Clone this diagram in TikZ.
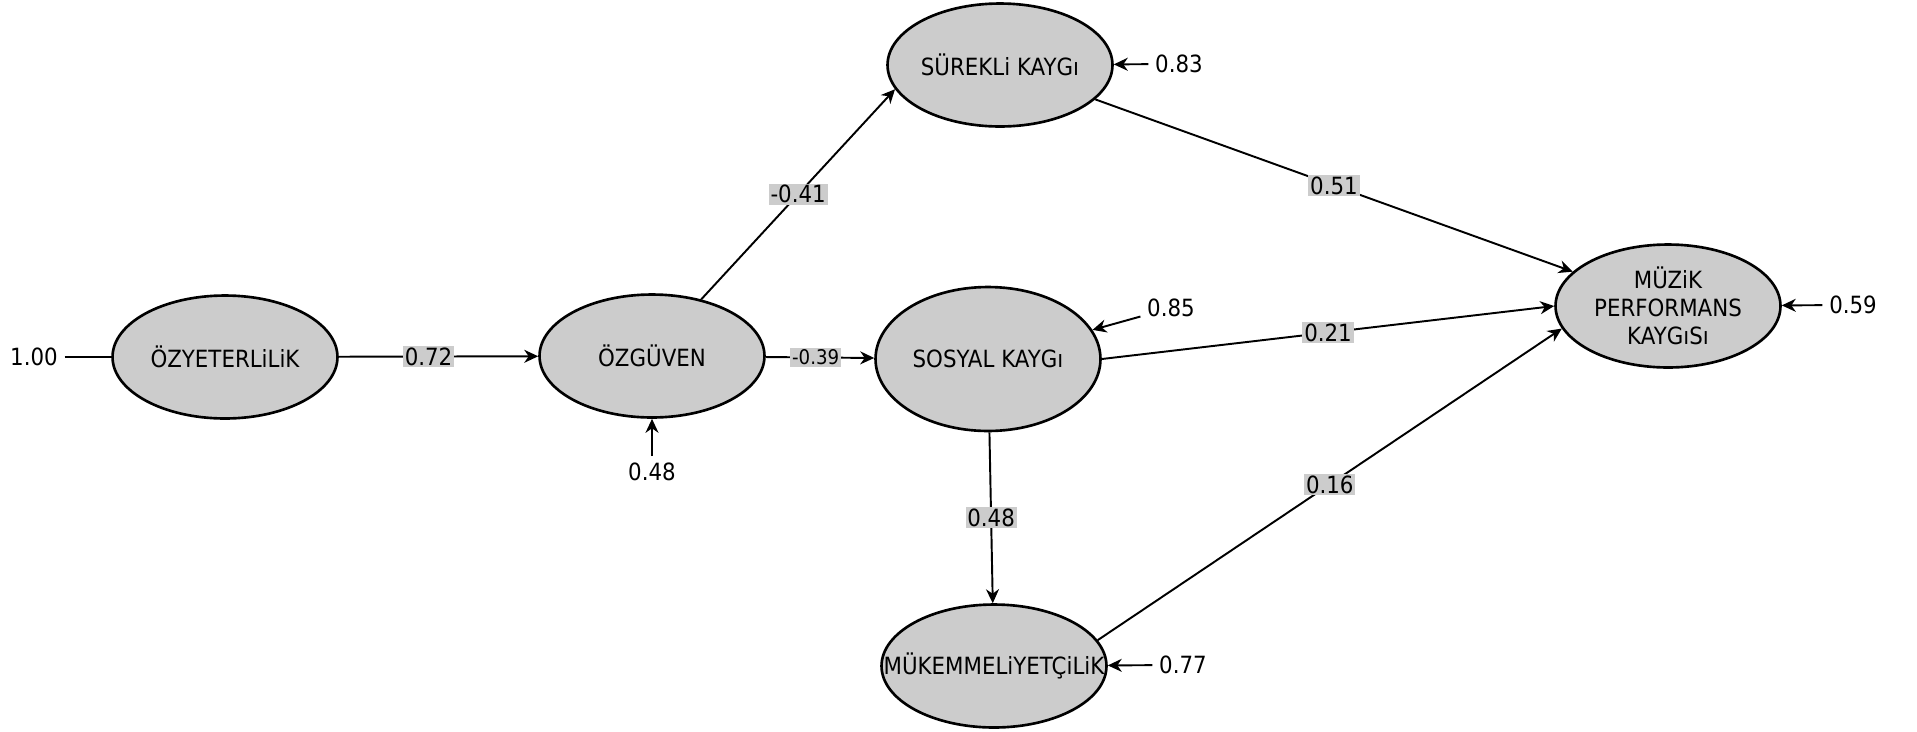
\documentclass[tikz,border=0pt]{standalone}
\usepackage{fontspec}
\setmainfont{DejaVu Sans}[FakeStretch=0.9]
\usetikzlibrary{shapes.geometric,arrows.meta}

\tikzset{
  latent/.style={ellipse, draw, line width=1.5pt, fill=black!20, minimum width=4.5cm,
    minimum height=2.46cm, inner sep=0pt, align=center},
  coef/.style={fill=black!20, inner sep=1pt},
  >={Stealth[length=2.8mm, width=2.6mm, inset=0.9mm]}
}

\begin{document}
\begin{tikzpicture}[x=0.02cm, y=-0.02cm, line width=1.1pt, font=\fontsize{13.5}{16}\selectfont]
  \useasboundingbox (0,0) rectangle (1917,731);

  % Nodes
  \node[latent] (ozy) at (225,357) {ÖZYETERLiLiK};
  \node[latent] (ozg) at (652,356) {ÖZGÜVEN};
  \node[latent] (sur) at (1000,65) {SÜREKLi KAYGı};
  \node[latent, minimum height=2.88cm] (sos) at (988,359) {SOSYAL KAYGı};
  \node[latent] (muk) at (994,666) {\makebox[0pt]{MÜKEMMELiYETÇiLiK}};
  \node[latent] (muz) at (1668,306) {MÜZiK\\PERFORMANS\\KAYGıSı};

  % Error terms
  \node (e1) at (34,357) {1.00};
  \node (r1) at (652,472) {0.48};
  \node (r2) at (1179,64) {0.83};
  \node (r3) at (1171,308) {0.85};
  \node (r4) at (1183,665) {0.77};
  \node (r5) at (1853,305) {0.59};

  % Arrows
  \draw[->] (ozy) to node[coef, pos=0.45] {0.72} (ozg);
  \draw[->] (ozg.49) to node[coef] {-0.41} (sur.193);
  \draw[->] (ozg) to node[coef, pos=0.46, font=\fontsize{11.5}{14}\selectfont] {-0.39} (sos);
  \draw[->] (sur) to node[coef] {0.51} (muz);
  \draw[->] (sos.east) to node[coef] {0.21} (muz.west);
  \draw[->] (sos) to node[coef] {0.48} (muk);
  \draw[->] (muk.14) to node[coef] {0.16} (muz.192);

  % Residuals
  \draw (e1) -- (ozy);
  \draw[->] (r1) -- (ozg);
  \draw[->] (r2) -- (sur);
  \draw[->] (r3) -- (sos);
  \draw[->] (r4) -- (muk);
  \draw[->] (r5) -- (muz);
\end{tikzpicture}
\end{document}
